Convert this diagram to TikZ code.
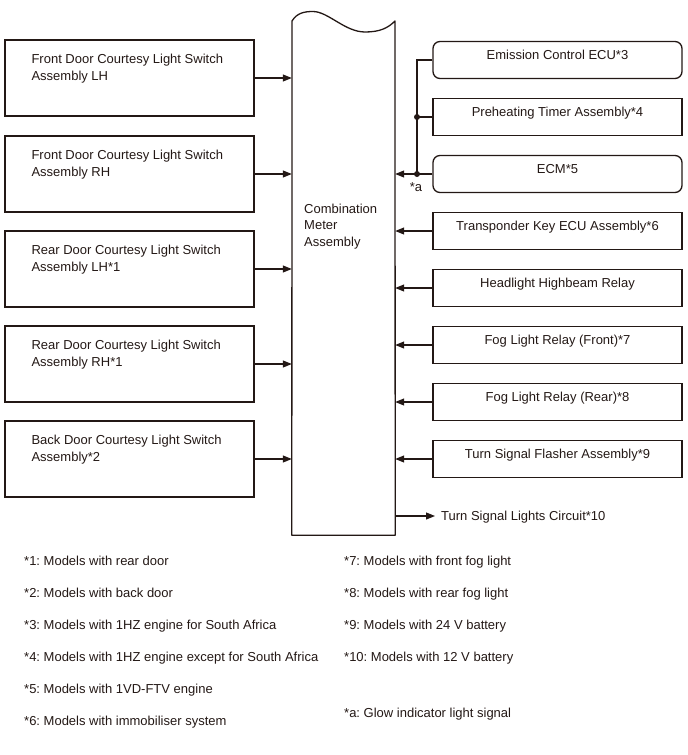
\documentclass[tikz,border=0pt]{standalone}
\usepackage{fontspec}
\setmainfont{Liberation Sans}
\usetikzlibrary{arrows.meta}
\definecolor{ink}{RGB}{35,24,21}
\frenchspacing
\begin{document}
\begin{tikzpicture}[x=1pt,y=-1pt,
  font=\fontsize{13}{16.5}\selectfont,
  every node/.style={text=ink},
  box/.style={draw=ink, line width=1.3pt, minimum width=249pt, inner sep=0pt},
  lbox/.style={box, minimum height=76pt},
  rbox/.style={box, minimum height=37pt, text height=11pt, text depth=13pt},
  rrbox/.style={rbox, rounded corners=7pt},
  wire/.style={draw=ink, line width=1.1pt},
  arr/.style={wire, -{Triangle[length=9pt,width=7pt]}},
  txt/.style={inner sep=0pt, align=left},
  note/.style={inner sep=0pt, anchor=base west}]
\useasboundingbox (0,0) rectangle (688,755);

% centre box
\node[minimum width=103pt, minimum height=514pt, inner sep=0pt] (M) at (343.5,278) {};
\draw[ink, line width=1.3pt, line join=round]
  (M.south west) -- (292,21) .. controls (297,13) and (304,11.5) .. (313,11.5)
  .. controls (328,11.5) and (345,32) .. (365,32)
  .. controls (380,32) and (388,28) .. (395,21) -- (M.south east) -- cycle;
\node[txt, anchor=north west] (Mt) at (304,203.5) {Combination\\Meter\\Assembly};

% left boxes
\node[lbox] (L1) at (129.5,78) {};
\node[lbox] (L2) at (129.5,174) {};
\node[lbox] (L3) at (129.5,269) {};
\node[lbox] (L4) at (129.5,364) {};
\node[lbox] (L5) at (129.5,459) {};
\node[txt, anchor=north west] (L1t) at ([shift={(27,15)}]L1.north west) {Front Door Courtesy Light Switch\\Assembly LH};
\node[txt, anchor=north west] (L2t) at ([shift={(27,15)}]L2.north west) {Front Door Courtesy Light Switch\\Assembly RH};
\node[txt, anchor=north west] (L3t) at ([shift={(27,15)}]L3.north west) {Rear Door Courtesy Light Switch\\Assembly LH*1};
\node[txt, anchor=north west] (L4t) at ([shift={(27,15)}]L4.north west) {Rear Door Courtesy Light Switch\\Assembly RH*1};
\node[txt, anchor=north west] (L5t) at ([shift={(27,15)}]L5.north west) {Back Door Courtesy Light Switch\\Assembly*2};
\foreach \n in {L1,L2,L3,L4,L5}
  \draw[arr] (\n.east) -- (\n.east -| M.west);

% right boxes
\node[rrbox] (R1) at (557.5,60) {Emission Control ECU*3};
\node[rbox]  (R2) at (557.5,117) {Preheating Timer Assembly*4};
\node[rrbox] (R3) at (557.5,174) {ECM*5};
\node[rbox]  (R4) at (557.5,231) {Transponder Key ECU Assembly*6};
\node[rbox]  (R5) at (557.5,288) {Headlight Highbeam Relay};
\node[rbox]  (R6) at (557.5,345) {Fog Light Relay (Front)*7};
\node[rbox]  (R7) at (557.5,402) {Fog Light Relay (Rear)*8};
\node[rbox]  (R8) at (557.5,459) {Turn Signal Flasher Assembly*9};

% junction of R1-R3
\coordinate (Jx) at (417,0);
\draw[wire] (R1.west) -- (R1.west -| Jx) -- (R3.west -| Jx);
\draw[wire] (R2.west) -- (R2.west -| Jx);
\draw[arr] (R3.west) -- (R3.west -| M.east);
\fill[ink] (R2.west -| Jx) circle (3);
\fill[ink] (R3.west -| Jx) circle (3);
\node[anchor=base, inner sep=0pt] (sa) at (416,191) {*a};

\foreach \n in {R4,R5,R6,R7,R8}
  \draw[arr] (\n.west) -- (\n.west -| M.east);

% output
\node[anchor=west, inner sep=0pt, inner xsep=6pt, text height=9.4pt, text depth=0pt] (T) at (435,516) {Turn Signal Lights Circuit*10};
\draw[arr] (T.west -| M.east) -- (T.west);

% notes
\node[note] (n1) at (24,565) {*1: Models with rear door};
\node[note] (n2) at (24,597) {*2: Models with back door};
\node[note] (n3) at (24,629) {*3: Models with 1HZ engine for South Africa};
\node[note] (n4) at (24,661) {*4: Models with 1HZ engine except for South Africa};
\node[note] (n5) at (24,693) {*5: Models with 1VD-FTV engine};
\node[note] (n6) at (24,725) {*6: Models with immobiliser system};
\node[note] (n7) at (344,565) {*7: Models with front fog light};
\node[note] (n8) at (344,597) {*8: Models with rear fog light};
\node[note] (n9) at (344,629) {*9: Models with 24 V battery};
\node[note] (n10) at (344,661) {*10: Models with 12 V battery};
\node[note] (na) at (344,717) {*a: Glow indicator light signal};
\end{tikzpicture}
\end{document}
